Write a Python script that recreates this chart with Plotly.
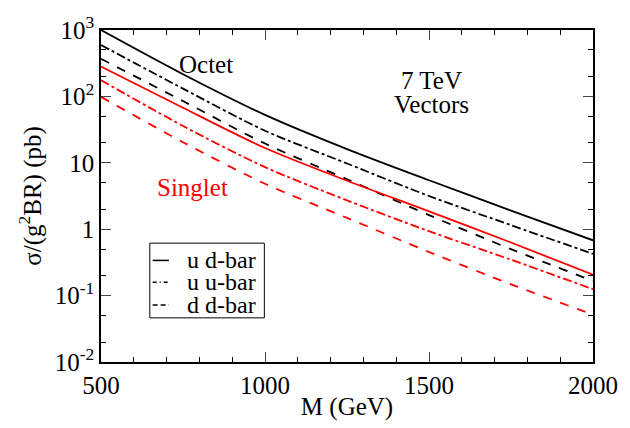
import plotly.graph_objects as go

M = [500, 750, 1000, 1250, 1500, 1750, 2000]

octet_udbar = [1000, 216, 52.7, 16.1, 5.46, 1.91, 0.68]
octet_uubar = [593, 131, 30.4, 9.77, 3.16, 1.15, 0.425]
octet_ddbar = [368, 85.1, 19.5, 5.66, 1.63, 0.50, 0.166]
singlet_udbar = [282, 67.5, 16.7, 5.37, 1.86, 0.63, 0.206]
singlet_uubar = [175, 35.9, 8.6, 2.72, 0.933, 0.347, 0.125]
singlet_ddbar = [98.4, 20.4, 4.83, 1.48, 0.454, 0.148, 0.0516]

ytick_vals = [0.01, 0.1, 1, 10, 100, 1000]
ytick_text = ["10<sup>-2</sup>", "10<sup>-1</sup>", "1", "10", "10<sup>2</sup>", "10<sup>3</sup>"]
xtick_vals = [500, 1000, 1500, 2000]

legend_names = ["u d-bar", "u u-bar", "d d-bar"]
legend_dashes = ["solid", "dashdot", "dash"]

FONT = "Liberation Serif, Times New Roman, serif"

fig = go.Figure()

series = [
    (octet_udbar, "black", "solid"),
    (octet_uubar, "black", "dashdot"),
    (octet_ddbar, "black", "dash"),
    (singlet_udbar, "red", "solid"),
    (singlet_uubar, "red", "dashdot"),
    (singlet_ddbar, "red", "dash"),
]
for ys, col, dash in series:
    fig.add_trace(go.Scatter(x=M, y=ys, mode="lines",
                             line=dict(color=col, width=1.8, dash=dash, shape="spline", smoothing=0.8),
                             showlegend=False, hoverinfo="skip"))

fig.update_layout(
    width=630, height=428,
    margin=dict(l=101, r=35, t=26, b=56),
    paper_bgcolor="white", plot_bgcolor="white",
    font=dict(family=FONT, color="black", size=24),
    showlegend=False,
)

fig.update_xaxes(
    range=[500, 2000], tickvals=xtick_vals, ticks="inside", ticklen=10, tickwidth=1,
    showline=True, linecolor="black", linewidth=1.5, mirror="allticks", showgrid=False, zeroline=False,
    tickfont=dict(size=25, family=FONT),
    title=dict(text="M (GeV)", font=dict(size=25, family=FONT), standoff=0),
    minor=dict(dtick=100, ticks="inside", ticklen=5, tickcolor="black", showgrid=False),
)
fig.update_yaxes(
    type="log", range=[-2, 3], tickvals=ytick_vals, ticktext=ytick_text, ticks="inside", ticklen=10, tickwidth=1,
    showline=True, linecolor="black", linewidth=1.5, mirror="allticks", showgrid=False, zeroline=False,
    tickfont=dict(size=25, family=FONT),
    title=dict(text="σ/(g<sup>2</sup>BR) (pb)", font=dict(size=25, family=FONT), standoff=6),
    minor=dict(ticks="inside", ticklen=5, tickcolor="black", showgrid=False),
)

# legend box (manual, to match the compact original)
fig.add_shape(type="rect", xref="paper", yref="paper", x0=0.0992, x1=0.332, y0=0.133, y1=0.358,
              line=dict(color="black", width=1), fillcolor="white", layer="above")
row_y = [0.306, 0.240, 0.172]
for name, dash, yy in zip(legend_names, legend_dashes, row_y):
    fig.add_shape(type="line", xref="paper", yref="paper", x0=0.105, x1=0.138, y0=yy, y1=yy,
                  line=dict(color="black", width=1.5, dash=dash if dash == "solid" else ("4px,3px,1px,3px" if dash == "dashdot" else "5px,3px")),
                  layer="above")
    fig.add_annotation(x=0.170, y=yy, xref="paper", yref="paper", text=name, showarrow=False,
                       xanchor="left", yanchor="middle", font=dict(size=24, family=FONT, color="black"))

fig.add_annotation(x=820, y=2.48, xref="x", yref="y", text="Octet", showarrow=False,
                   font=dict(size=25, family=FONT, color="black"))
fig.add_annotation(x=1508, y=2.24, xref="x", yref="y", text="7 TeV", showarrow=False,
                   font=dict(size=25, family=FONT, color="black"))
fig.add_annotation(x=1508, y=1.88, xref="x", yref="y", text="Vectors", showarrow=False,
                   font=dict(size=25, family=FONT, color="black"))
fig.add_annotation(x=779, y=0.63, xref="x", yref="y", text="Singlet", showarrow=False,
                   font=dict(size=25, family=FONT, color="red"))

fig.write_html("out.html")
